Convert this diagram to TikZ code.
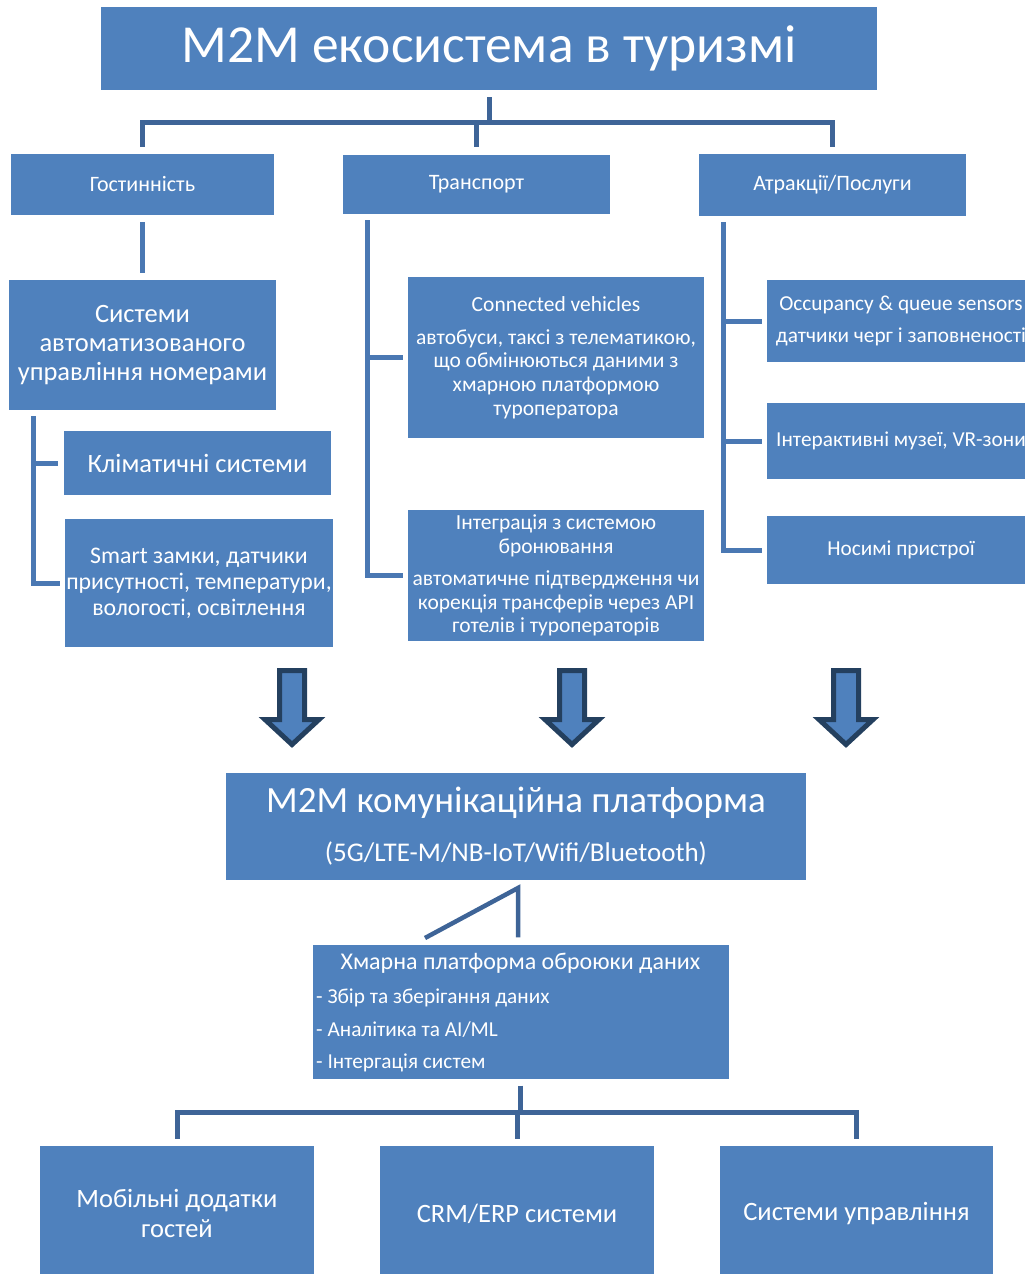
\documentclass[tikz,border=0pt]{standalone}
\usepackage{fontspec}
\setmainfont{Carlito}
\usetikzlibrary{positioning, calc}
\definecolor{boxblue}{HTML}{4F81BD}
\definecolor{branchblue}{HTML}{4A78B3}
\definecolor{linkblue}{HTML}{3E6497}
\definecolor{arrowedge}{HTML}{24405F}
\newcommand{\fsz}[2]{\fontsize{#1pt}{#2pt}\selectfont}

\begin{document}
\begin{tikzpicture}[
  x=1pt, y=-1pt,
  box/.style={fill=boxblue, text=white, align=center, inner sep=1pt},
  bullet/.style={text=white, inner sep=3pt, font=\fsz{21.3}{24}},
  link/.style={draw=linkblue, line width=5pt},
  branch/.style={draw=branchblue, line width=5pt},
  blockarrow/.style={fill=boxblue, draw=arrowedge, line width=5pt, line join=miter}
]
\useasboundingbox (0,0) rectangle (1025,1274);
\clip (0,0) rectangle (1025,1274);

% Title
\node[box, minimum width=776, minimum height=83, font=\fsz{53.5}{60}] (title) at (489,48.5) {M2M екосистема в туризмі};

% Sectors
\node[box, minimum width=263, minimum height=61, font=\fsz{22}{26}] (hosp) at (142.5,184.5) {Гостинність};
\node[box, minimum width=267, minimum height=59, font=\fsz{22}{26}] (trans) at (476.5,184) {Транспорт};
\node[box, minimum width=267, minimum height=62, font=\fsz{22}{26}] (attr) at (832.5,185) {Атракції/Послуги};

% Hospitality
\node[box, minimum width=267, minimum height=130, font=\fsz{26.5}{29}] (rooms) at (142.5,345) {Системи\\автоматизованого\\управління номерами};
\node[box, minimum width=267, minimum height=64, font=\fsz{26.5}{29}] (clim) at (197.5,463) {Кліматичні системи};
\node[box, minimum width=268, minimum height=128, font=\fsz{23.8}{26}] (smart) at (199,583) {Smart замки, датчики\\присутності, температури,\\вологості, освітлення};

% Transport
\node[box, minimum width=296, minimum height=161, font=\fsz{21.5}{23.7}] (conn) at (556,357.5) {Connected vehicles\\[9pt]автобуси, таксі з телематикою,\\що обмінюються даними з\\хмарною платформою\\туроператора};
\node[box, minimum width=296, minimum height=131, font=\fsz{21.5}{23.5}] (integ) at (556,575.5) {Інтеграція з системою\\бронювання\\[9pt]автоматичне підтвердження чи\\корекція трансферів через API\\готелів і туроператорів};

% Attractions
\node[box, minimum width=268, minimum height=82, font=\fsz{21.3}{23}] (occ) at (901,321) {Occupancy \& queue sensors\\[9pt]датчики черг і заповненості};
\node[box, minimum width=268, minimum height=76, font=\fsz{21.3}{23}] (inter) at (901,441) {Інтерактивні музеї, VR-зони};
\node[box, minimum width=268, minimum height=68, font=\fsz{21.3}{23}] (wear) at (901,550) {Носимі пристрої};

% Block arrows
\foreach \cx in {292,572,846}
  \draw[blockarrow] (\cx-12.5,670.5) -- (\cx+12.5,670.5) -- (\cx+12.5,719.5) -- (\cx+27,719.5) -- (\cx,744.5) -- (\cx-27,719.5) -- (\cx-12.5,719.5) -- cycle;

% Platform and cloud
\node[box, minimum width=580, minimum height=107, font=\fsz{37}{40}] (platform) at (516,826.5) {M2M комунікаційна платформа\\[9pt]{\fsz{27}{30}(5G/LTE-M/NB-IoT/Wifi/Bluetooth)}};
\node[box, minimum width=416, minimum height=134] (cloud) at (520.5,1011.5) {};
\node[text=white, inner sep=3pt, font=\fsz{24}{28}, below=6pt of cloud.north] (cloudtitle) {Хмарна платформа оброюки даних};
\node[bullet, anchor=west] (b1) at (313,998) {- Збір та зберігання даних};
\node[bullet, anchor=west] (b2) at (313,1030) {- Аналітика та AI/ML};
\node[bullet, anchor=west] (b3) at (313,1063) {- Інтергація систем};

% Applications
\node[box, minimum width=274, minimum height=135, font=\fsz{26.5}{30}] (mob) at (177,1213.5) {Мобільні додатки\\гостей};
\node[box, minimum width=274, minimum height=135, font=\fsz{26.5}{30}] (crm) at (517,1213.5) {CRM/ERP системи};
\node[box, minimum width=273, minimum height=135, font=\fsz{26.5}{30}] (sysm) at (856.5,1213.5) {Системи управління};

% Tree connectors
\coordinate (tophub) at (489,122);
\draw[link, shorten <=7pt] (title.south) -- (tophub);
\foreach \n in {hosp,trans,attr}
  \draw[link, shorten >=7pt] (tophub) -| (\n.north);

\draw[branch, shorten <=7pt, shorten >=7pt] (hosp) -- (rooms);
\coordinate (hspine) at (33,416);
\draw[branch, shorten >=6pt] (hspine) |- (clim.west);
\draw[branch, shorten >=5pt] (hspine) |- (smart.west);

\coordinate (tspine) at (367,220);
\foreach \n in {conn,integ}
  \draw[branch, shorten >=5pt] (tspine) |- (\n.west);

\coordinate (aspine) at (723,222);
\foreach \n in {occ,inter,wear}
  \draw[branch, shorten >=5pt] (aspine) |- (\n.west);

\coordinate (pjoin) at (518,888);
\coordinate (pfoot) at (425,938);
\draw[link, line width=4.5pt, shorten >=7pt] (pfoot) -- (pjoin) -- (pjoin |- cloud.north);

\coordinate (bothub) at (520.5,1112);
\draw[link, shorten <=7pt] (cloud.south) -- (bothub);
\foreach \n in {mob,crm,sysm}
  \draw[link, shorten >=7pt] (bothub) -| (\n.north);
\end{tikzpicture}
\end{document}
